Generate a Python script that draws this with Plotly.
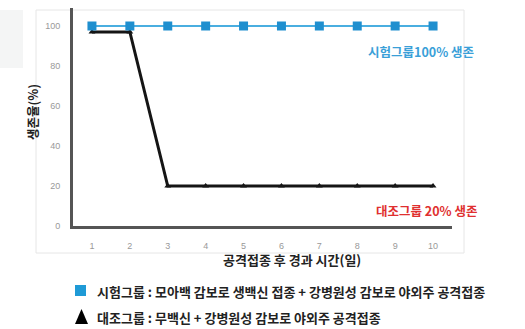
import plotly.graph_objects as go

days = [1, 2, 3, 4, 5, 6, 7, 8, 9, 10]
test_group = [100, 100, 100, 100, 100, 100, 100, 100, 100, 100]
control_group = [97, 97, 20, 20, 20, 20, 20, 20, 20, 20]
y_ticks = [0, 20, 40, 60, 80, 100]

W, H = 525, 329
L, R, T, B = 73, 73, 8, 103
PW, PH = W - L - R, H - T - B

def px(x):
    return (x - L) / PW

def py(y):
    return (H - B - y) / PH

KR = "Noto Sans CJK KR"

fig = go.Figure()
fig.add_trace(go.Scatter(
    x=days, y=control_group, mode="lines+markers",
    line=dict(color="#151515", width=3),
    marker=dict(symbol="triangle-up", size=6, color="#151515"),
    showlegend=False, cliponaxis=False))
fig.add_trace(go.Scatter(
    x=days, y=test_group, mode="lines+markers",
    line=dict(color="#4aaee0", width=2),
    marker=dict(symbol="square", size=9, color="#1f8fcf"),
    showlegend=False, cliponaxis=False))

shapes = [
    dict(type="rect", xref="paper", yref="paper",
         x0=px(36), x1=px(464), y0=py(253), y1=py(10),
         line=dict(color="#e6e6e6", width=1), fillcolor="rgba(0,0,0,0)", layer="below"),
    dict(type="rect", xref="paper", yref="paper",
         x0=px(0), x1=px(23), y0=py(68), y1=py(10),
         line=dict(width=0), fillcolor="#f4f5f5", layer="below"),
    dict(type="rect", xref="paper", yref="paper",
         x0=px(75), x1=px(86), y0=py(296), y1=py(285),
         line=dict(width=0), fillcolor="#1f9ad6"),
    dict(type="path", xref="paper", yref="paper",
         path=f"M {px(75)},{py(324)} L {px(88)},{py(324)} L {px(81.5)},{py(309)} Z",
         line=dict(width=0), fillcolor="#000000"),
]

def ann(text, x, y, size, color, xanchor="center", angle=0):
    return dict(text=text, xref="paper", yref="paper", x=px(x), y=py(y),
                xanchor=xanchor, yanchor="middle", textangle=angle, showarrow=False,
                font=dict(family=KR, size=size, color=color))

annotations = [
    ann("<b>생존율(%)</b>", 32, 112, 12.5, "#222", angle=-90),
    ann("<b>공격접종 후 경과 시간(일)</b>", 292, 259, 13, "#222"),
    ann("<b>시험그룹100% 생존</b>", 421, 51, 12.5, "#3aa0d8"),
    ann("<b>대조그룹 20% 생존</b>", 426, 210, 12.5, "#e03030"),
    ann("<b>시험그룹 : 모아백 감보로 생백신 접종 + 강병원성 감보로 야외주 공격접종</b>",
        95, 291, 13, "#222", xanchor="left"),
    ann("<b>대조그룹 : 무백신 + 강병원성 감보로 야외주 공격접종</b>",
        95, 317, 13, "#222", xanchor="left"),
]

fig.update_layout(
    width=W, height=H, margin=dict(l=L, r=R, t=T, b=B),
    plot_bgcolor="white", paper_bgcolor="white",
    shapes=shapes, annotations=annotations,
    xaxis=dict(range=[0.5, 10.5], tickvals=days, ticktext=[str(d) for d in days],
               showgrid=False, zeroline=False, showline=True, linecolor="#555", linewidth=3,
               ticks="outside", ticklen=9, tickcolor="rgba(0,0,0,0)",
               tickfont=dict(family="Liberation Sans", size=9, color="#999")),
    yaxis=dict(range=[0, 109], tickvals=y_ticks,
               showgrid=False, zeroline=False, showline=True, linecolor="#555", linewidth=3,
               ticks="outside", ticklen=8, tickcolor="rgba(0,0,0,0)",
               tickfont=dict(family="Liberation Sans", size=9, color="#999")),
)

fig.write_html("out.html")
